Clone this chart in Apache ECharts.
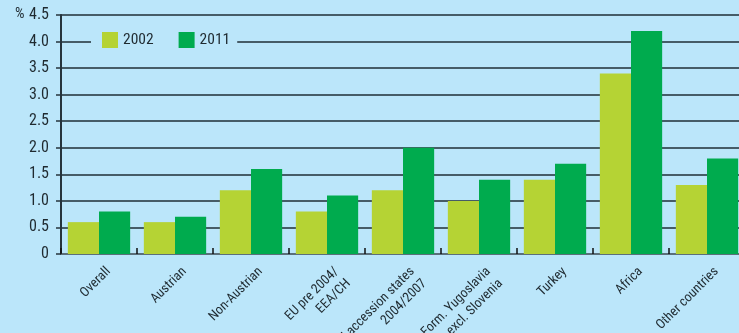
<!DOCTYPE html>
<html>
<head>
<meta charset="utf-8">
<script src="https://cdn.jsdelivr.net/npm/echarts@6/dist/echarts.min.js"></script>
<style>
  html, body { margin: 0; padding: 0; background: #bbe6fa; }
  #chart { width: 739px; height: 333px; }
</style>
</head>
<body>
<div id="chart"></div>
<script>
// Groups shown along the x axis
const categories = [
  'Overall',
  'Austrian',
  'Non-Austrian',
  'EU pre 2004/\nEEA/CH',
  'EU accession states\n2004/2007',
  'Form. Yugoslavia\nexcl. Slovenia',
  'Turkey',
  'Africa',
  'Other countries'
];

// Rates in percent for each year
const values2002 = [0.6, 0.6, 1.2, 0.8, 1.2, 1.0, 1.4, 3.4, 1.3];
const values2011 = [0.8, 0.7, 1.6, 1.1, 2.0, 1.4, 1.7, 4.2, 1.8];

const seriesNames = ['2002', '2011'];

// Narrow type: Roboto with the condensed width requested through the font shorthand
const FONT = 'Roboto, sans-serif';
const NARROW = 'condensed';
const BG = '#bbe6fa';
const INK = '#1f2a30';

const chart = echarts.init(document.getElementById('chart'), null, { renderer: 'canvas' });

chart.setOption({
  backgroundColor: BG,
  animation: false,
  color: ['#b5d334', '#00ab4e'],
  grid: {
    left: 61,
    right: -6,
    top: 15,
    bottom: 79,
    outerBoundsMode: 'none',
    containLabel: false
  },
  legend: {
    left: 91,
    top: 27,
    icon: 'rect',
    itemWidth: 16,
    itemHeight: 16,
    itemGap: 25,
    padding: [5, 7, 5, 11],
    backgroundColor: BG,
    textStyle: { fontFamily: FONT, fontWeight: NARROW, fontSize: 15.5, color: INK },
    data: seriesNames
  },
  graphic: [
    {
      type: 'text',
      left: 15,
      top: 7,
      style: { text: '%', fontFamily: FONT, fontWeight: NARROW, fontSize: 15, fill: INK }
    }
  ],
  xAxis: {
    type: 'category',
    data: categories,
    axisLine: { show: true, lineStyle: { color: '#5b6f7a', width: 2 } },
    axisTick: { show: true, inside: true, length: 6, lineStyle: { color: '#111', width: 1.5 } },
    axisLabel: {
      interval: 0,
      rotate: 45,
      margin: 6,
      fontFamily: FONT,
      fontWeight: NARROW,
      fontSize: 13.5,
      color: INK,
      lineHeight: 17,
      align: 'right',
      verticalAlign: 'top',
      padding: [5, 0, 0, 0]
    }
  },
  yAxis: {
    type: 'value',
    min: 0,
    max: 4.5,
    interval: 0.5,
    axisLine: { show: true, lineStyle: { color: '#26343c', width: 2 } },
    axisTick: { show: true, length: 5, lineStyle: { color: '#26343c', width: 1.5 } },
    axisLabel: {
      margin: 12,
      fontFamily: FONT,
      fontWeight: NARROW,
      fontSize: 16,
      color: INK,
      formatter: v => (v === 0 ? '0' : v.toFixed(1))
    },
    splitLine: { show: true, lineStyle: { color: '#1f2e36', width: 1.7 } }
  },
  series: [
    {
      name: seriesNames[0],
      type: 'bar',
      data: values2002,
      barGap: '0%',
      barCategoryGap: '18%',
      z: 3
    },
    {
      name: seriesNames[1],
      type: 'bar',
      data: values2011,
      barGap: '0%',
      barCategoryGap: '18%',
      z: 3
    }
  ]
});
</script>
</body>
</html>
